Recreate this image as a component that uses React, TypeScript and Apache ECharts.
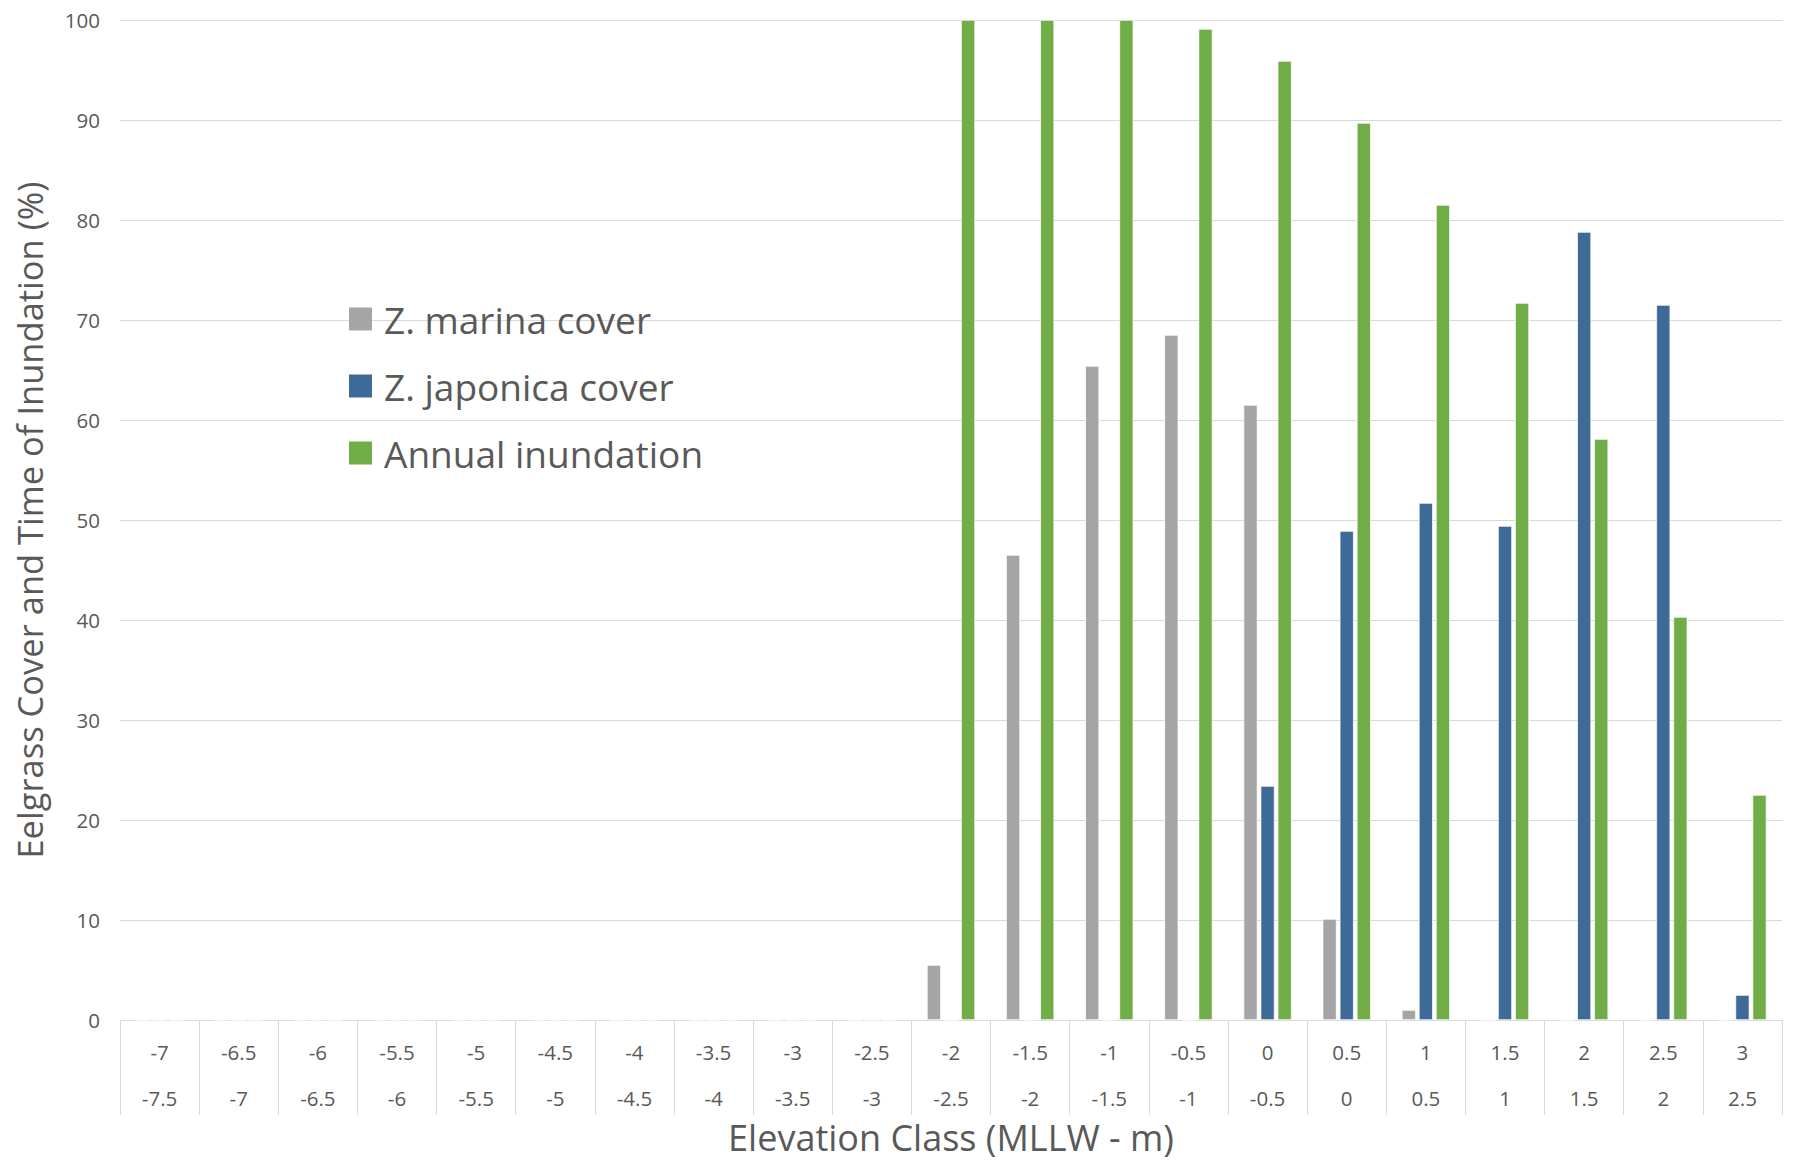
import React, { useEffect, useRef } from "react";
import * as echarts from "echarts";

const upperLabels = ["-7", "-6.5", "-6", "-5.5", "-5", "-4.5", "-4", "-3.5", "-3", "-2.5", "-2", "-1.5", "-1", "-0.5", "0", "0.5", "1", "1.5", "2", "2.5", "3"];
const lowerLabels = ["-7.5", "-7", "-6.5", "-6", "-5.5", "-5", "-4.5", "-4", "-3.5", "-3", "-2.5", "-2", "-1.5", "-1", "-0.5", "0", "0.5", "1", "1.5", "2", "2.5"];

const marinaCover = [0, 0, 0, 0, 0, 0, 0, 0, 0, 0, 5.5, 46.5, 65.4, 68.5, 61.5, 10.1, 1.0, 0, 0, 0, 0];
const japonicaCover = [0, 0, 0, 0, 0, 0, 0, 0, 0, 0, 0, 0, 0, 0, 23.4, 48.9, 51.7, 49.4, 78.8, 71.5, 2.5];
const annualInundation = [0, 0, 0, 0, 0, 0, 0, 0, 0, 0, 100, 100, 100, 99.1, 95.9, 89.7, 81.5, 71.7, 58.1, 40.3, 22.5];

const yTicks = { min: 0, max: 100, interval: 10 };

const TEXT = "#595959";
const FONT = "'Open Sans', 'Noto Sans', sans-serif";

export default function App() {
  const ref = useRef<HTMLDivElement>(null);
  useEffect(() => {
    if (!ref.current) return;
    const chart = echarts.init(ref.current, null, { renderer: "svg" });
    const categories = upperLabels.map((u, i) => `${u}\n${lowerLabels[i]}`);
    const barCommon = {
      type: "bar" as const,
      barWidth: 14,
      barGap: "22%",
      barCategoryGap: "40%",
    };
    chart.setOption({
      animation: false,
      backgroundColor: "#ffffff",
      textStyle: { fontFamily: FONT },
      grid: { left: 120, right: 12, top: 20, bottom: 147, containLabel: false, outerBoundsMode: "none" },
      legend: {
        orient: "vertical",
        left: 349,
        top: 299,
        padding: 0,
        itemWidth: 23,
        itemHeight: 23,
        itemGap: 27,
        icon: "rect",
        itemStyle: { borderWidth: 0 },
        textStyle: { color: TEXT, fontSize: 37, fontFamily: FONT, lineHeight: 40, padding: [0, 0, 0, 7] },
        data: ["Z. marina cover", "Z. japonica cover", "Annual inundation"],
      },
      xAxis: {
        type: "category",
        data: categories,
        boundaryGap: true,
        name: "Elevation Class (MLLW - m)",
        nameLocation: "middle",
        nameGap: 96,
        nameMoveOverlap: false,
        nameTextStyle: { color: TEXT, fontSize: 36, fontFamily: FONT, lineHeight: 42 },
        axisLine: { show: true, lineStyle: { color: "#D9D9D9", width: 1 } },
        axisTick: { show: true, length: 95, interval: 0, alignWithLabel: false, lineStyle: { color: "#D9D9D9", width: 1 } },
        axisLabel: {
          interval: 0,
          color: TEXT,
          fontSize: 20.5,
          fontFamily: FONT,
          lineHeight: 46,
          margin: 9,
        },
        splitLine: { show: false },
      },
      yAxis: {
        type: "value",
        min: yTicks.min,
        max: yTicks.max,
        interval: yTicks.interval,
        name: "Eelgrass Cover and Time of Inundation (%)",
        nameLocation: "middle",
        nameGap: 73,
        nameRotate: 90,
        nameTextStyle: { color: TEXT, fontSize: 34.5, fontFamily: FONT },
        axisLine: { show: false },
        axisTick: { show: false },
        axisLabel: { color: TEXT, fontSize: 20.5, fontFamily: FONT, margin: 20 },
        splitLine: { show: true, lineStyle: { color: "#D9D9D9", width: 1 } },
      },
      series: [
        { ...barCommon, name: "Z. marina cover", data: marinaCover, itemStyle: { color: "#A5A5A5", borderColor: "#ffffff", borderWidth: 0.7 } },
        { ...barCommon, name: "Z. japonica cover", data: japonicaCover, itemStyle: { color: "#3E6A97", borderColor: "#ffffff", borderWidth: 0.7 } },
        { ...barCommon, name: "Annual inundation", data: annualInundation, itemStyle: { color: "#70AD47", borderColor: "#ffffff", borderWidth: 0.7 } },
      ],
    });
    return () => chart.dispose();
  }, []);
  return <div ref={ref} style={{ position: "fixed", left: 0, top: 0, width: 1794, height: 1167 }} />;
}
